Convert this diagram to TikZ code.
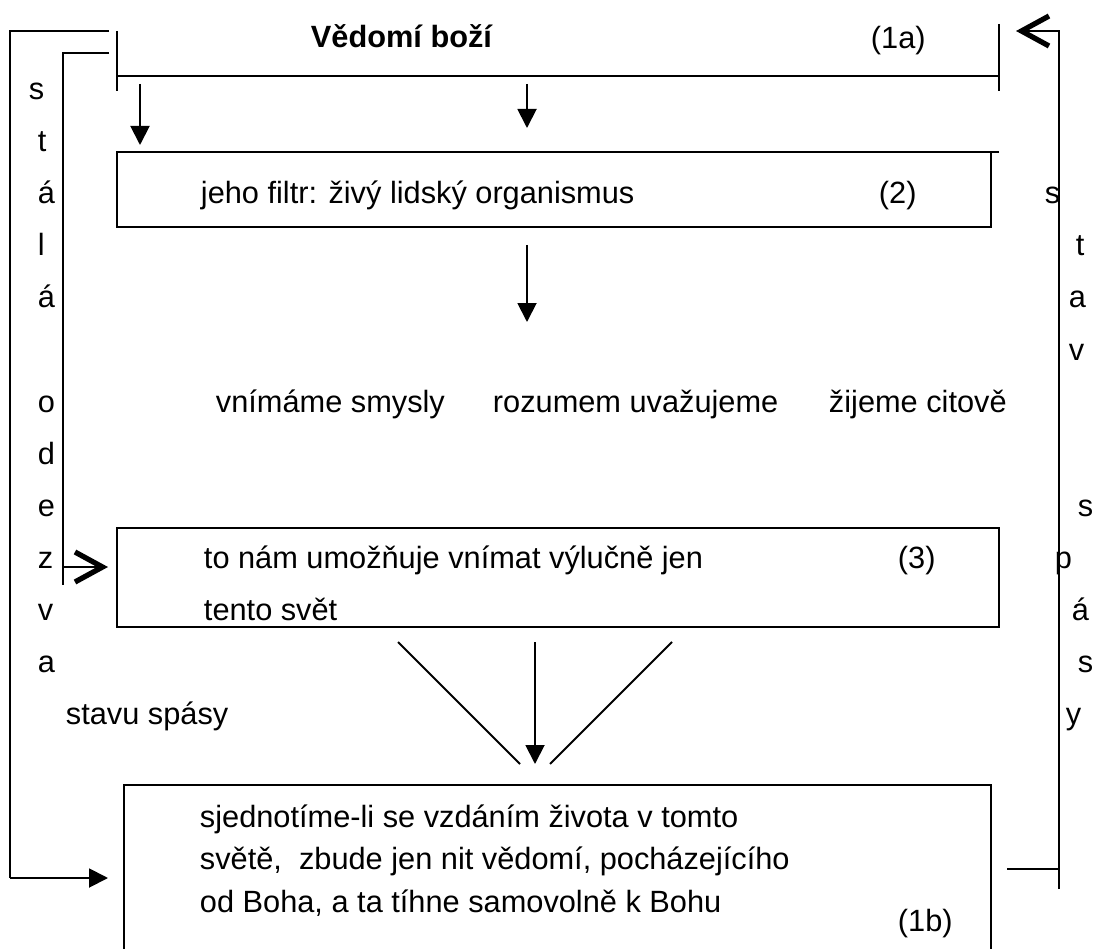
\documentclass[tikz,border=0pt]{standalone}
\usepackage{fontspec}
\setmainfont{Liberation Sans}
\usetikzlibrary{arrows.meta}

\tikzset{
    txt/.style={inner sep=0pt, anchor=base west, font=\fontsize{17.5}{20}\selectfont},
    tri/.style={-{Triangle[length=0.38cm,width=0.38cm]}},
    barb/.style={-{Straight Barb[length=0.55cm,width=0.6cm,line width'=3pt]}},
}

\begin{document}
\begin{tikzpicture}[x=0.02cm,y=-0.02cm,line width=1.1pt]
    \useasboundingbox (0,0) rectangle (1095,949);
    % top bracket (1a)
    \coordinate (topL) at (117,76);
    \coordinate (topR) at (999,76);
    \draw (117,31) -- (117,91);
    \draw (999,24) -- (999,91);
    \draw (topL) -- (topR);
    \node[txt, font=\fontsize{17.5}{20}\selectfont\bfseries] (god) at (310,48) {Vědomí boží};
    \node[txt] (n1a) at (870,49) {(1a)};
    % box (2)
    \coordinate (filtrTL) at (117,152);
    \coordinate (filtrBR) at (991,227);
    \draw (999,152) -- (filtrTL) -- (117,227) -- (filtrBR) -- (991,152);
    \node[txt] (filtr) at (200,204) {jeho filtr: živý lidský organismus};
    \node[txt] (n2) at (878,204) {(2)};
    \coordinate (a1s) at (140,84);
    \coordinate (a1e) at (140,145);
    \coordinate (a2s) at (527,84);
    \coordinate (a2e) at (527,128);
    \draw[tri] (a1s) -- (a1e);
    \draw[tri] (a2s) -- (a2e);
    \coordinate (a3s) at (527,245);
    \coordinate (a3e) at (527,322);
    \draw[tri] (a3s) -- (a3e);
    % three ways
    \node[txt] (sens) at (215,412) {vnímáme smysly};
    \node[txt] (mind) at (492,412) {rozumem uvažujeme};
    \node[txt] (feel) at (828,412) {žijeme citově};
    % box (3)
    \coordinate (worldTL) at (117,528);
    \coordinate (worldBR) at (999,627);
    \draw (worldTL) rectangle (worldBR);
    \node[txt] (world) at (203,568) {to nám umožňuje vnímat výlučně jen};
    \node[txt] (world2) at (203,620) {tento svět};
    \node[txt] (n3) at (897,568) {(3)};
    \coordinate (v1) at (398,642);
    \coordinate (v1e) at (520,764);
    \coordinate (v2) at (535,642);
    \coordinate (v2e) at (535,764);
    \coordinate (v3) at (672,642);
    \coordinate (v3e) at (550,764);
    \draw (v1) -- (v1e);
    \draw[tri] (v2) -- (v2e);
    \draw (v3) -- (v3e);
    % box (1b)
    \draw (124,949) -- (124,785) -- (991,785) -- (991,949);
    \node[txt] (unite) at (199,827) {sjednotíme-li se vzdáním života v tomto};
    \node[txt] (unite2) at (199,869) {světě,\ \ zbude jen nit vědomí, pocházejícího};
    \node[txt] (unite3) at (199,912) {od Boha, a ta tíhne samovolně k Bohu};
    \node[txt] (n1b) at (897,931) {(1b)};
    % left loops
    \coordinate (echoIn) at (109,53);
    \coordinate (echoOut) at (109,31);
    \coordinate (echoT) at (108,567);
    \coordinate (echoB) at (108,878);
    \draw (echoOut) -- (10,31) -- (10,878) coordinate (echoC);
    \draw[tri] (echoC) -- (echoB);
    \draw (echoIn) -- (63,53) -- (63,585);
    \coordinate (echoJ) at (63,567);
    \draw[barb] (echoJ) -- (echoT);
    \foreach \l/\x/\y [count=\i] in {s/28/100, t/37/152, á/37/204, l/37/256, á/37/308,
        o/37/412, d/37/464, e/37/516, z/37/568, v/37/620, a/37/672}
        \node[txt] (echo\i) at (\x,\y) {\l};
    \node[txt] (spasa) at (65,724) {stavu spásy};
    % right return
    \coordinate (backS) at (1007,869);
    \coordinate (backJ) at (1059,869);
    \coordinate (backT) at (1016,31);
    \draw (backS) -- (backJ);
    \draw[barb] (1059,889) -- (1059,31) -- (backT);
    \foreach \l/\x/\y [count=\i] in {s/1044/204, t/1075/256, a/1068/308, v/1068/360,
        s/1077/516, p/1054/568, á/1071/620, s/1077/672, y/1065/724}
        \node[txt] (stav\i) at (\x,\y) {\l};
\end{tikzpicture}
\end{document}
